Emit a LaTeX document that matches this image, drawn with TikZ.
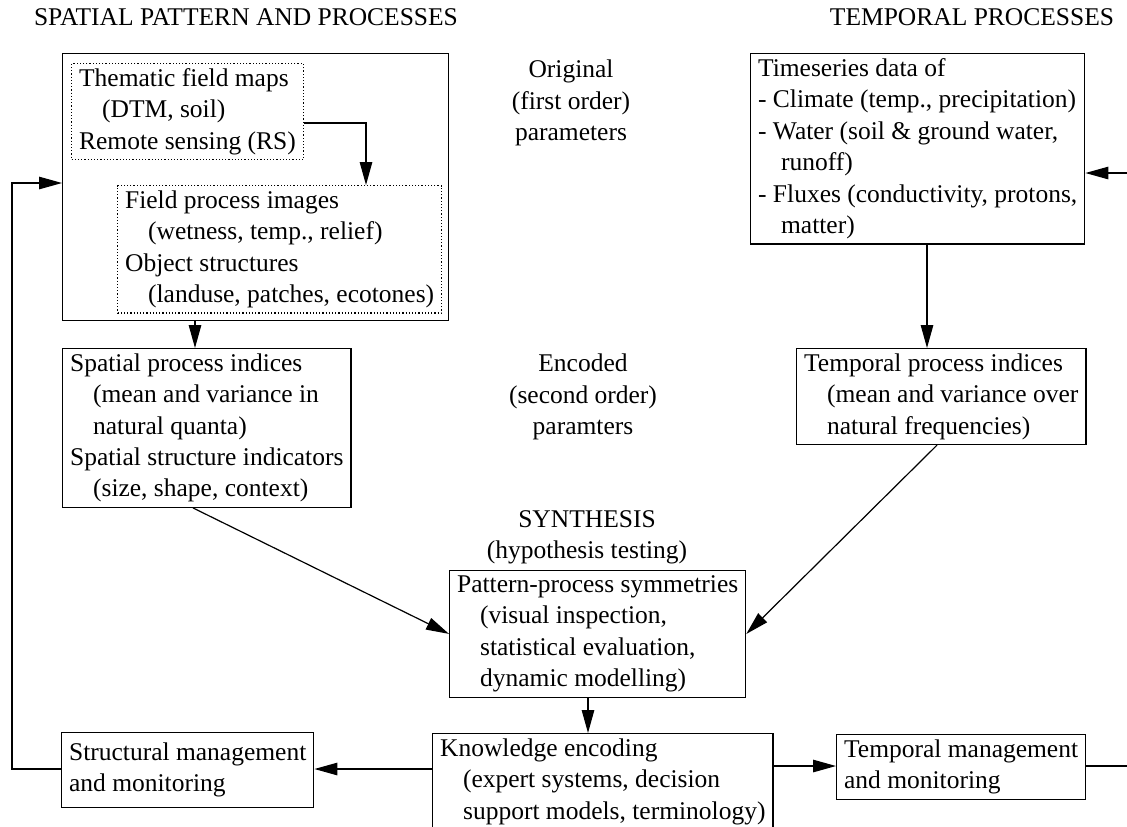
\documentclass[tikz,border=0pt]{standalone}
\usepackage{fontspec}
\setmainfont{Liberation Serif}
\usetikzlibrary{arrows.meta}

\newcommand{\ind}{\hspace*{11.5pt}}

\begin{document}
\begin{tikzpicture}[
    x=0.5pt, y=-0.5pt,
    line width=0.6pt,
    every node/.style={font=\fontsize{12.75pt}{15.7pt}\selectfont},
    box/.style={draw, align=left, anchor=north west, inner xsep=3.75pt, inner ysep=2.5pt},
    dotbox/.style={box, densely dotted},
    lbl/.style={align=center, inner sep=0pt},
    arr/.style={-{Triangle[length=11.5pt,width=6.25pt]}}
]
\useasboundingbox (0,0) rectangle (1127,826);
\clip (0,0) rectangle (1127,826);

% headings
\node (tl1) [lbl] at (246,17) {SPATIAL PATTERN AND PROCESSES};
\node (tl2) [lbl] at (972,17) {TEMPORAL PROCESSES};

% spatial side
\node (big) [draw, anchor=north west, minimum width=193pt, minimum height=133.5pt] at (62,53) {};
\node (dot1) [dotbox] at (71,63) {Thematic field maps\\\ind(DTM, soil)\\Remote sensing (RS)};
\node (dot2) [dotbox] at (117,185) {Field process images\\\ind(wetness, temp., relief)\\Object structures\\\ind(landuse, patches, ecotones)};
\node (sp) [box] at (62,348) {Spatial process indices\\\ind(mean and variance in\\\ind natural quanta)\\Spatial structure indicators\\\ind(size, shape, context)};

% middle labels
\node (orig) [lbl] at (571,103) {Original\\(first order)\\parameters};
\node (enc) [lbl] at (583,397) {Encoded\\(second order)\\paramters};
\node (syn) [lbl] at (587,537) {SYNTHESIS\\(hypothesis testing)};

% temporal side
\node (ts) [box] at (750,53) {Timeseries data of\\- Climate (temp., precipitation)\\- Water (soil \& ground water,\\\ind runoff)\\- Fluxes (conductivity, protons,\\\ind matter)};
\node (ti) [box] at (796,348) {Temporal process indices\\\ind(mean and variance over\\\ind natural frequencies)};

% synthesis and management
\node (pat) [box] at (449,570) {Pattern-process symmetries\\\ind(visual inspection,\\\ind statistical evaluation,\\\ind dynamic modelling)};
\node (kn) [box] at (432,733) {Knowledge encoding\\\ind(expert systems, decision\\\ind support models, terminology)};
\node (st) [box, minimum height=37.5pt] at (61,732) {Structural management\\and monitoring};
\node (tm) [box, minimum height=32.5pt] at (836,734) {Temporal management\\and monitoring};

\draw[arr] (dot1.east |- 0,123) -| (366,0 |- dot2.north);
\draw[arr] (195,0 |- big.south) -- (195,0 |- sp.north);
\draw[arr] (927,0 |- ts.south) -- (927,0 |- ti.north);
\draw[arr] (193,0 |- sp.south) -- (pat.west);
\draw[arr] (937,0 |- ti.south) -- (pat.east);
\draw[arr] (588,0 |- pat.south) -- (588,0 |- kn.north);
\draw[arr] (kn.west |- 0,769) -- (st.east |- 0,769);
\draw[arr] (kn.east |- 0,766) -- (tm.west |- 0,766);
\draw (tm.east |- 0,766) -- (1140,766);
\draw[arr] (1140,173) -- (ts.east |- 0,173);
\draw[arr] (st.west |- 0,769) -| (12,183) -- (big.west |- 0,183);
\end{tikzpicture}
\end{document}
